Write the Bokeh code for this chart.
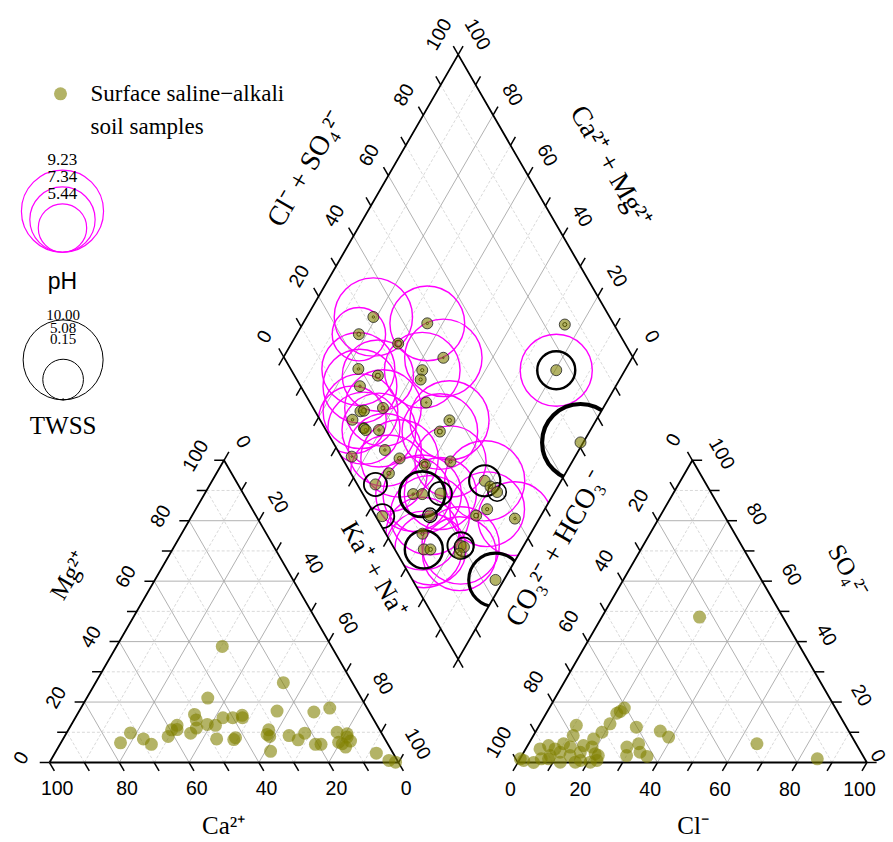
import math
from bokeh.plotting import figure
from bokeh.models import ColumnDataSource
from bokeh.core.properties import value
from bokeh.embed import file_html
from bokeh.resources import INLINE

# ---------------- data ----------------
TICKS = [0, 20, 40, 60, 80, 100]
TICK_LABELS = ["0", "20", "40", "60", "80", "100"]
TICK_STEP = 10
NAN = float("nan")

# cation triangle (percent meq): Ca2+, Mg2+ (Na+K = 100 - Ca - Mg)
CAT_CA = [31.3, 19.8, 44.0, 50.5, 50.9, 42.9, 40.1, 37.0, 37.3, 26.3, 15.9, 10.7, 71.9, 76.4, 69.2,
          67.8, 61.7, 59.6, 57.3, 58.0, 54.7, 52.2, 48.5, 46.3, 48.2, 43.4, 42.6, 31.8, 32.6, 34.8,
          26.9, 25.0, 22.0, 20.8, 19.2, 12.6, 13.8, 13.0, 10.5, 12.6, 10.2, 10.0, 4.8, 2.4, 0.8, 33.0]
CAT_MG = [38.4, 26.4, 21.3, 15.9, 14.1, 14.8, 14.8, 15.6, 14.8, 17.0, 16.7, 18.0, 9.8, 6.5, 7.8,
          6.0, 8.6, 10.8, 12.3, 10.9, 9.7, 11.4, 12.6, 12.3, 7.8, 7.6, 8.2, 10.8, 8.6, 3.7,
          8.9, 7.5, 9.7, 6.0, 6.0, 10.0, 6.7, 6.2, 8.4, 5.1, 7.1, 9.5, 3.1, 0.7, 0.1, 9.3]

# anion triangle: Cl-, SO4 2- (CO3+HCO3 = 100 - Cl - SO4)
AN_CL = [28.0, 21.5, 20.9, 20.2, 20.0, 19.1, 17.8, 10.6, 11.4, 28.1, 35.6, 39.0, 65.4, 85.2, 28.7,
         31.5, 33.3, 36.0, 30.0, 18.7, 20.7, 22.3, 16.0, 16.2, 10.0, 10.4, 6.0, 4.1, 8.1, 13.8,
         16.4, 12.1, 4.5, 1.3, 0.1, 20.7, 21.9, 8.4, 17.6, 8.2, 12.5, 6.1]
AN_SO4 = [48.1, 18.0, 16.9, 16.3, 12.8, 10.0, 7.8, 12.3, 8.9, 11.7, 10.4, 8.4, 6.2, 1.2, 5.1,
          6.2, 3.4, 2.0, 2.3, 5.1, 2.9, 0.7, 5.6, 3.4, 6.2, 3.4, 5.6, 4.5, 2.3, 2.3,
          0.1, 0.1, 0.0, 0.7, 1.2, 0.1, 2.3, 4.5, 0.7, 1.2, 5.1, 1.2]

# diamond: Na+K (%), Cl+SO4 (%), pH, TWSS
DIA_NAK = [19.1, 35.6, 17.8, 30.6, 45.9, 23.4, 41.9, 43.0, 30.1, 26.7, 48.4, 36.9, 31.0, 31.9, 30.1,
           34.8, 35.6, 39.4, 58.0, 57.1, 44.4, 36.0, 50.0, 65.1, 58.3, 49.4, 47.4, 59.8, 62.4, 67.5,
           78.1, 80.7, 83.5, 83.5, 81.4, 93.0, 54.6, 68.1, 69.0, 72.0, 73.9, 81.9, 83.1, 82.9, 97.6,
           75.2, 80.3, 99.2]
DIA_CLSO4 = [32.3, 46.7, 25.3, 35.0, 45.6, 19.4, 37.5, 35.5, 23.9, 17.0, 33.3, 20.0, 13.0, 14.1, 9.3,
             11.2, 11.4, 15.2, 37.0, 32.4, 13.6, 3.0, 16.4, 30.5, 22.6, 10.9, 5.2, 14.4, 17.0, 22.3,
             37.1, 37.8, 38.8, 33.1, 28.9, 39.5, 1.9, 15.7, 10.5, 8.3, 10.2, 19.5, 20.2, 17.8, 23.8,
             85.9, 75.9, 70.9]
DIA_PH = [8.8, 8.4, 6.0, NAN, 8.7, 8.2, 8.5, NAN, 8.0, 8.3, NAN, 8.6, 8.4, NAN, 7.6,
          8.1, NAN, 8.3, 8.9, 8.5, 8.2, NAN, 8.7, 8.0, NAN, 8.6, NAN, 8.4, 8.8, 8.1,
          9.0, NAN, NAN, 8.4, NAN, 8.3, NAN, 8.9, 8.2, 8.6, 8.0, 8.7, NAN, 8.3, NAN,
          NAN, 8.1, NAN]
DIA_TWSS = [0.3, 0.3, 0.5, 0.8, 0.2, 0.3, 0.4, 0.4, 0.6, 0.3, 0.2, 0.5, 0.3, 0.6, 0.3,
            1.2, 0.4, 0.3, 0.5, 0.6, 0.3, 0.2, 0.5, 0.4, 0.8, 0.5, 2.9, 0.3, 5.7, 2.9,
            3.9, 0.5, 2.3, 0.4, 0.6, 0.3, 3.0, 1.8, 0.4, 4.75, 0.5, 3.3, 2.4, 0.5, 6.7,
            0.5, 4.75, 9.6]

PH_LEGEND = [9.23, 7.34, 5.44]
PH_LEGEND_LABELS = ["9.23", "7.34", "5.44"]
TWSS_LEGEND = [10.00, 5.08, 0.15]
TWSS_LEGEND_LABELS = ["10.00", "5.08", "0.15"]

# ---------------- layout ----------------
W, H = 893, 842
PX = 3.49                 # screen px per data unit (triangle side = 100 units)
XL, YT = -49 / PX, 762 / PX
S3 = math.sqrt(3) / 2
G = 34.2                  # gap between triangles
OX = 100 + G
LX, LY = 50 + G / 2, 100 * S3 + G * S3
PH_R = 4.45               # px of radius per pH unit
TW_R = 4.0                # px of radius per TWSS unit

OLIVE = "#808000"
SERIF = value("Liberation Serif")
SANS = value("Liberation Sans")


def cat_xy(ca, mg):
    na = 100 - ca - mg
    return na + mg / 2, mg * S3


def an_xy(cl, so4):
    return OX + cl + so4 / 2, so4 * S3


def dia_xy(n, a):
    return LX + 0.5 * n + 0.5 * a, LY + S3 * (a - n)


p = figure(width=W, height=H, x_range=(XL, XL + W / PX), y_range=(YT - H / PX, YT),
           output_backend="svg", toolbar_location=None, x_axis_type=None, y_axis_type=None,
           min_border=0, outline_line_color=None, background_fill_color="white")


def add_segments(segs, **kw):
    if not segs:
        return
    p.segment(x0=[s[0][0] for s in segs], y0=[s[0][1] for s in segs],
              x1=[s[1][0] for s in segs], y1=[s[1][1] for s in segs], **kw)


steps = list(range(TICK_STEP, 100, TICK_STEP))

# ---- diamond grid ----
dsol, ddash = [], []
for v in steps:
    tgt = dsol if v % 20 == 0 else ddash
    tgt.append((dia_xy(v, 0), dia_xy(v, 100)))
    tgt.append((dia_xy(0, v), dia_xy(100, v)))
add_segments(dsol, line_color="#a8a8a8", line_width=0.9)
add_segments(ddash, line_color="#cfcfcf", line_width=0.8, line_dash="3 2")

# ---- diamond circles (pH magenta, TWSS black) ----
dxy = [dia_xy(n, a) for n, a in zip(DIA_NAK, DIA_CLSO4)]
ph_idx = [i for i, v in enumerate(DIA_PH) if not math.isnan(v)]
p.circle(x=[dxy[i][0] for i in ph_idx], y=[dxy[i][1] for i in ph_idx],
         radius=[PH_R * DIA_PH[i] / PX for i in ph_idx],
         fill_color=None, line_color="#ff00ff", line_width=1.4)
p.circle(x=[d[0] for d in dxy], y=[d[1] for d in dxy],
         radius=[TW_R * t / PX for t in DIA_TWSS],
         line_width=[0.8 + 0.35 * t for t in DIA_TWSS],
         fill_color=None, line_color="black")

# ---- mask: everything outside the diamond ----
dia_poly = [dia_xy(0, 0), dia_xy(100, 0), dia_xy(100, 100), dia_xy(0, 100)]
outer_x = [-100, 400, 400, -100]
outer_y = [-100, -100, 400, 400]
p.multi_polygons(xs=[[[outer_x, [q[0] for q in dia_poly]]]],
                 ys=[[[outer_y, [q[1] for q in dia_poly]]]],
                 fill_color="white", line_color=None)

# ---- triangle grids ----
tsol, tdash = [], []
for v in steps:
    tgt = tsol if v % 20 == 0 else tdash
    tgt.append((cat_xy(100 - v, v), cat_xy(0, v)))
    tgt.append((cat_xy(v, 0), cat_xy(v, 100 - v)))
    tgt.append((cat_xy(100 - v, 0), cat_xy(0, 100 - v)))
    tgt.append((an_xy(0, v), an_xy(100 - v, v)))
    tgt.append((an_xy(v, 0), an_xy(v, 100 - v)))
    tgt.append((an_xy(100 - v, 0), an_xy(0, 100 - v)))
add_segments(tsol, line_color="#a8a8a8", line_width=0.9)
add_segments(tdash, line_color="#cfcfcf", line_width=0.8, line_dash="3 2")

# ---- outlines ----
tri_l = [cat_xy(100, 0), cat_xy(0, 0), cat_xy(0, 100), cat_xy(100, 0)]
tri_r = [an_xy(0, 0), an_xy(100, 0), an_xy(0, 100), an_xy(0, 0)]
dia_c = dia_poly + [dia_poly[0]]
for poly in (tri_l, tri_r, dia_c):
    p.line([q[0] for q in poly], [q[1] for q in poly], line_color="black", line_width=1.8)

# ---- ticks ----
TL = 2.8
ticks = []
all_v = list(range(0, 101, TICK_STEP))
for v in all_v:
    specs = [
        (cat_xy(v, 0), (0.5, -S3)),
        (cat_xy(100 - v, v), (-1, 0)),
        (cat_xy(0, 100 - v), (0.5, S3)),
        (an_xy(v, 0), (-0.5, -S3)),
        (an_xy(100 - v, v), (1, 0)),
        (an_xy(0, 100 - v), (-0.5, S3)),
        (dia_xy(0, v), (-0.5, S3)),
        (dia_xy(v, 100), (0.5, S3)),
        (dia_xy(v, 0), (-0.5, -S3)),
        (dia_xy(100, v), (0.5, -S3)),
    ]
    for (x0, y0), (dx, dy) in specs:
        ticks.append(((x0, y0), (x0 + TL * dx, y0 + TL * dy)))
add_segments(ticks, line_color="black", line_width=1.5)

# ---- tick labels ----
A60 = math.pi / 3
X_MAX_TEXT = XL + (W - 15) / PX
lab = dict(x=[], y=[], text=[], angle=[])


def put(xy, off, txt, ang):
    lab["x"].append(min(xy[0] + off[0], X_MAX_TEXT))
    lab["y"].append(xy[1] + off[1])
    lab["text"].append(txt)
    lab["angle"].append(ang)


for v, t in zip(TICKS, TICK_LABELS):
    put(cat_xy(v, 0), (2.2, -7.2), t, 0)
    put(cat_xy(100 - v, v), (-8.3, 1.4), t, A60)
    put(cat_xy(0, 100 - v), (5.7, 5.4), t, -A60)
    put(an_xy(v, 0), (-2.1, -7.7), t, 0)
    put(an_xy(100 - v, v), (8.6, 2.0), t, -A60)
    put(an_xy(0, 100 - v), (-5.6, 5.9), t, A60)
    put(dia_xy(0, v), (-5.7, 5.9), t, A60)
    put(dia_xy(100 - v, 100), (5.7, 5.9), t, -A60)
p.text(x="x", y="y", text="text", angle="angle", source=ColumnDataSource(lab),
       text_font=SANS, text_font_size="19.5px", text_align="center", text_baseline="middle",
       text_color="black")

# ---- axis titles ----
titles = dict(
    x=[49.9, 184.4, 5.5, 229.0, 73.4, 161.0, 93.1, 145.0],
    y=[-18.0, -18.0, 53.6, 55.0, 170.2, 171.0, 55.3, 61.3],
    text=["Ca²⁺", "Cl⁻", "Mg²⁺", "SO₄²⁻", "Cl⁻ + SO₄²⁻", "Ca²⁺ + Mg²⁺", "Ka⁺ + Na⁺", "CO₃²⁻ + HCO₃⁻"],
    angle=[0, 0, A60, -A60, A60, -A60, -A60, A60],
    size=["25px", "25px", "25px", "25px", "28px", "28px", "26px", "28px"],
)
p.text(x="x", y="y", text="text", angle="angle", text_font_size="size",
       source=ColumnDataSource(titles), text_font=SERIF, text_align="center",
       text_baseline="middle", text_color="black")

# ---- sample points ----
cxy = [cat_xy(c, m) for c, m in zip(CAT_CA, CAT_MG)]
p.scatter([q[0] for q in cxy], [q[1] for q in cxy], size=13, fill_color=OLIVE,
          fill_alpha=0.6, line_color=None)
axy = [an_xy(c, s) for c, s in zip(AN_CL, AN_SO4)]
p.scatter([q[0] for q in axy], [q[1] for q in axy], size=13, fill_color=OLIVE,
          fill_alpha=0.6, line_color=None)
p.scatter([d[0] for d in dxy], [d[1] for d in dxy], size=11, fill_color=OLIVE,
          fill_alpha=0.6, line_color="#222222", line_alpha=0.8, line_width=1)

# ---- legend ----
p.scatter([3.15], [191.6], size=13, fill_color=OLIVE, fill_alpha=0.6, line_color=None)
p.text(x=[11.75, 11.75], y=[191.7, 182.2], text=["Surface saline\u2212alkali", "soil samples"],
       text_font=SERIF, text_font_size="23px", text_align="left", text_baseline="middle",
       text_color="black")

ph_cx, ph_by = 3.72, 146.2
p.circle(x=[ph_cx] * len(PH_LEGEND), y=[ph_by + PH_R * v / PX for v in PH_LEGEND],
         radius=[PH_R * v / PX for v in PH_LEGEND], fill_color=None,
         line_color="#ff00ff", line_width=1.2)
p.text(x=[ph_cx] * 3, y=[172.7, 167.8, 163.0], text=PH_LEGEND_LABELS, text_font=SERIF,
       text_font_size="17px", text_align="center", text_baseline="middle", text_color="black")
p.text(x=[ph_cx], y=[138.1], text=["pH"], text_font=SANS, text_font_size="23px",
       text_align="center", text_baseline="middle", text_color="black")

tw_cx, tw_by = 3.9, 103.9
p.circle(x=[tw_cx] * len(TWSS_LEGEND), y=[tw_by + TW_R * v / PX for v in TWSS_LEGEND],
         radius=[TW_R * v / PX for v in TWSS_LEGEND], fill_color=None,
         line_color="black", line_width=1.0)
p.text(x=[tw_cx] * 3, y=[128.1, 124.6, 121.4], text=TWSS_LEGEND_LABELS, text_font=SERIF,
       text_font_size="15px", text_align="center", text_baseline="middle", text_color="black")
p.text(x=[tw_cx], y=[96.6], text=["TWSS"], text_font=SERIF, text_font_size="25px",
       text_align="center", text_baseline="middle", text_color="black")

open("out.html", "w").write(file_html(p, INLINE))
